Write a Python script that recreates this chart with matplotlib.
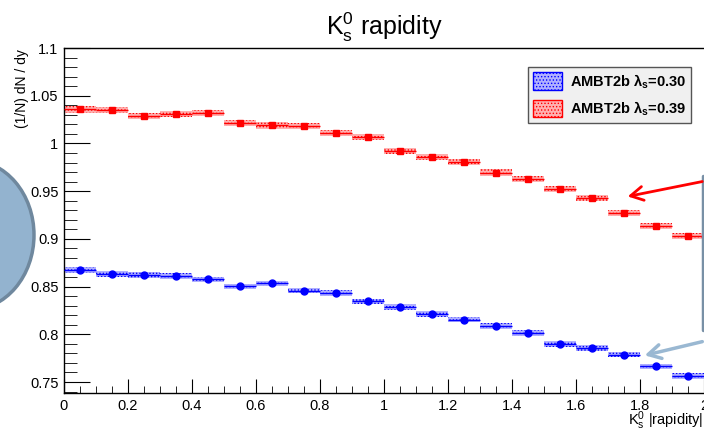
import numpy as np
import matplotlib
matplotlib.use("Agg")
import matplotlib.pyplot as plt
from matplotlib.patches import Ellipse, Patch
from matplotlib.ticker import MultipleLocator

plt.rcParams['font.family'] = ['Liberation Sans', 'DejaVu Sans']
plt.rcParams['mathtext.fontset'] = 'custom'
plt.rcParams['mathtext.rm'] = 'Liberation Sans'
plt.rcParams['mathtext.it'] = 'Liberation Sans'
plt.rcParams['mathtext.bf'] = 'Liberation Sans:bold'
plt.rcParams['hatch.linewidth'] = 0.6

# bins of |y|, width 0.1
bin_lo = np.round(np.arange(0, 2.0, 0.1), 2)
bin_w = 0.1

red_vals = [1.0356, 1.0346, 1.0286, 1.0307, 1.0320, 1.0213, 1.0188, 1.0180, 1.0107, 1.0066,
            0.9919, 0.9859, 0.9806, 0.9695, 0.9628, 0.9527, 0.9428, 0.9270, 0.9131, 0.9030]
blue_vals = [0.8672, 0.8630, 0.8624, 0.8613, 0.8575, 0.8501, 0.8533, 0.8459, 0.8435, 0.8344,
             0.8284, 0.8210, 0.8154, 0.8088, 0.8015, 0.7895, 0.7860, 0.7787, 0.7664, 0.7566]
red_err = 0.0032
blue_err = 0.0030

xticks = [0, 0.2, 0.4, 0.6, 0.8, 1.0, 1.2, 1.4, 1.6, 1.8, 2.0]
xtick_labels = ['0', '0.2', '0.4', '0.6', '0.8', '1', '1.2', '1.4', '1.6', '1.8', '2']
yticks = [0.75, 0.8, 0.85, 0.9, 0.95, 1.0, 1.05, 1.1]
ytick_labels = ['0.75', '0.8', '0.85', '0.9', '0.95', '1', '1.05', '1.1']
labels = [r'AMBT2b λ$_\mathbf{s}$=0.30', r'AMBT2b λ$_\mathbf{s}$=0.39']

W, H = 704, 429
fig = plt.figure(figsize=(W / 100, H / 100), dpi=100)
ax = fig.add_axes([64 / W, 36 / H, 640 / W, 345 / H])

def draw_series(vals, err, col, face, marker):
    vals = np.array(vals)
    ax.bar(bin_lo, 2 * err, bottom=vals - err, width=bin_w, align='edge',
           facecolor=face, edgecolor=col, hatch='.....', linewidth=0, zorder=2)
    ax.hlines(vals, bin_lo, bin_lo + bin_w, colors=col, linewidth=1, zorder=3)
    ax.plot(bin_lo + bin_w / 2, vals, linestyle='none', marker=marker, color=col,
            markersize=5, zorder=4)

draw_series(blue_vals, blue_err, '#0000ff', '#b0b0ff', 'o')
draw_series(red_vals, red_err, '#ff0000', '#ffb0b0', 's')

ax.set_xticks(xticks)
ax.set_xticklabels(xtick_labels)
ax.set_yticks(yticks)
ax.set_yticklabels(ytick_labels)
ax.xaxis.set_minor_locator(MultipleLocator(0.05))
ax.yaxis.set_minor_locator(MultipleLocator(0.01))
ax.tick_params(which='both', direction='in', labelsize=10.5, pad=4)
ax.tick_params(axis='y', which='major', length=19)
ax.tick_params(axis='y', which='minor', length=9)
ax.tick_params(axis='x', which='major', length=10)
ax.tick_params(axis='x', which='minor', length=5)
ax.set_xlim(0, 2.0)
ax.set_ylim(0.7385, 1.1)
ax.spines['right'].set_visible(False)
for s in ['top', 'left', 'bottom']:
    ax.spines[s].set_linewidth(1)

ax.set_title(r'K$^0_\mathrm{s}$ rapidity', fontsize=18, pad=9)
fig.text(22 / W, 1 - 49 / H, '(1/N) dN / dy', rotation=90, ha='center', va='top', fontsize=10)
fig.text(703 / W, 1 - 425 / H, r'K$^0_\mathrm{s}$ |rapidity|', ha='right', va='baseline',
         fontsize=10.5)

handles = [Patch(facecolor='#b0b0ff', edgecolor='#0000ff', hatch='.....', linewidth=1),
           Patch(facecolor='#ffb0b0', edgecolor='#ff0000', hatch='.....', linewidth=1)]
leg = ax.legend(handles, labels, loc='upper right', bbox_to_anchor=(627 / 640, 1 - 19 / 345),
                prop={'weight': 'bold', 'size': 10.5}, fancybox=False, framealpha=1,
                facecolor='#f0f0f0', edgecolor='#555555', handlelength=2.0, handleheight=1.5,
                borderpad=0.35, labelspacing=0.6, handletextpad=0.5, borderaxespad=0)
leg.get_frame().set_linewidth(1)

# slide annotations drawn over the plot in pixel coordinates
ov = fig.add_axes([0, 0, 1, 1], zorder=10)
ov.set_xlim(0, W)
ov.set_ylim(H, 0)
ov.axis('off')
ov.add_patch(Ellipse((-30, 235), 128, 150, facecolor='#93b3cf', edgecolor='#6f889e', linewidth=2.5))
ov.plot([702.5, 702.5], [176, 330], color='#7890a6', linewidth=2.5, solid_capstyle='round')
ov.annotate('', xy=(625, 197), xytext=(705, 181),
            arrowprops=dict(arrowstyle='->,head_length=0.9,head_width=0.5', color='#ff0000', lw=2))
ov.annotate('', xy=(642, 356), xytext=(705, 341),
            arrowprops=dict(arrowstyle='->,head_length=0.9,head_width=0.5', color='#9ab8d2', lw=2.5))

fig.savefig('out.png', dpi=100)
